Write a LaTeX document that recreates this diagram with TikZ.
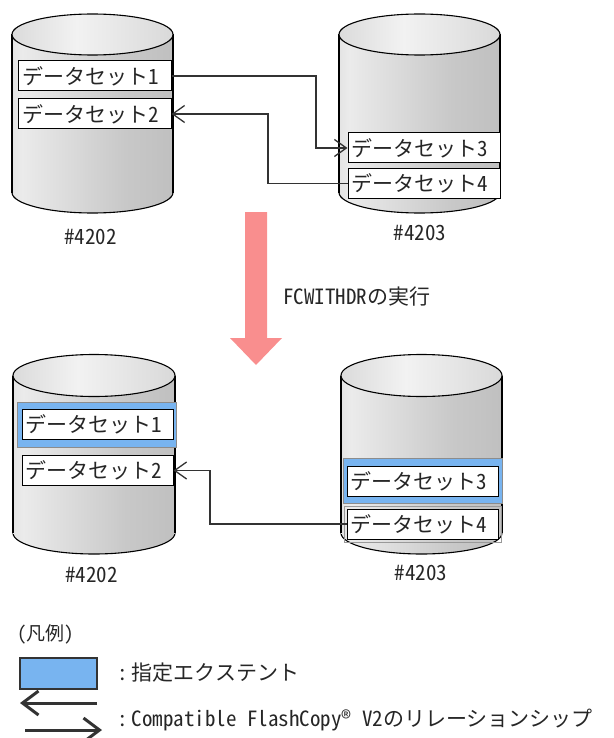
\documentclass[tikz,border=0pt]{standalone}
\usepackage{fontspec}
\setmainfont{Noto Sans CJK JP}[RawFeature=+hwid]
\usetikzlibrary{arrows.meta}
\definecolor{lineC}{HTML}{333333}
\definecolor{cylA}{HTML}{A6A6A6}
\definecolor{cylB}{HTML}{EBEBEB}
\definecolor{cylM}{HTML}{C8C8C8}
\definecolor{cylC}{HTML}{B2B2B2}
\definecolor{topA}{HTML}{BEBEBE}
\definecolor{topB}{HTML}{F2F2F2}
\definecolor{topC}{HTML}{C4C4C4}
\definecolor{extBlue}{HTML}{78B4F0}
\definecolor{pinkA}{HTML}{F98E8E}
\pgfdeclarehorizontalshading{cylbody}{100bp}{color(0bp)=(cylA); color(28bp)=(cylB); color(60bp)=(cylM); color(100bp)=(cylC)}
\pgfdeclarehorizontalshading{cyltop}{100bp}{color(0bp)=(topA); color(45bp)=(topB); color(100bp)=(topC)}
\newcommand\dbcyl[5]{%
  \path[shade, shading=cylbody, draw=black, line width=1.1pt] (#1,#4) ellipse [x radius=#2pt, y radius=#5pt];
  \path[shade, shading=cylbody] (#1-#2,#3) rectangle (#1+#2,#4);
  \draw[line width=1.1pt] (#1-#2,#3) -- (#1-#2,#4) (#1+#2,#3) -- (#1+#2,#4);
  \path[shade, shading=cyltop, draw=black, line width=1.1pt] (#1,#3) ellipse [x radius=#2pt, y radius=#5pt];
}
\tikzset{
  txt/.style={inner sep=0pt, font=\fontsize{21}{21}\selectfont, text=black!85},
  dsbox/.style={draw=black, line width=1pt, fill=white, minimum height=30pt,
    inner xsep=2pt, inner ysep=0pt, text width=145pt, align=left,
    font=\fontsize{21}{21}\selectfont, text=black!85},
  band/.style={draw=black!45, line width=0.8pt, fill=extBlue, inner sep=0pt},
  conn/.style={draw=lineC, line width=1.3pt, -{Straight Barb[length=12pt, width=17pt]}},
  legarrow/.style={draw=lineC, line width=3pt, -{Straight Barb[length=16pt, width=24pt]}},
}
\begin{document}
\begin{tikzpicture}[x=1pt, y=-1pt]
\useasboundingbox (0,0) rectangle (613,738);
% top cylinders
\dbcyl{92.5}{80.5}{34.5}{192.5}{20.5}
\dbcyl{419.5}{80.5}{34.5}{192.5}{20.5}
\node[dsbox, minimum width=153pt] (d1) at (94.5,76) {データセット1};
\node[dsbox, minimum width=153pt] (d2) at (94.5,114) {データセット2};
\node[dsbox, minimum width=152pt] (d3) at (424,148) {データセット3};
\node[dsbox, minimum width=152pt] (d4) at (424,183.5) {データセット4};
\node[txt] (l1) at (90.5,237) {\#4202};
\node[txt] (l2) at (420,233) {\#4203};
\coordinate (k1) at (316,76);
\coordinate (k2) at (268,114);
\draw[conn] (d1.east) -- (k1) |- (d3.west);
\draw[conn] (d4.west) -| (k2) -- (d2.east);
% pink arrow
\fill[pinkA] (245,212) -- (267,212) -- (267,338) -- (282,338) -- (256,365) -- (230,338) -- (245,338) -- cycle;
\node[txt, anchor=west] (run) at (283,297) {FCWITHDRの実行};
% bottom cylinders
\dbcyl{94}{81}{375.5}{533}{21}
\dbcyl{421.5}{80.5}{375.5}{533}{21}
\node[band, minimum width=159pt, minimum height=45pt] (b1) at (96.5,424.5) {};
\node[band, minimum width=159pt, minimum height=45pt] (b2) at (422.5,480.5) {};
\node[dsbox, minimum width=151pt] (e1) at (97.5,424.5) {データセット1};
\node[dsbox, minimum width=151pt] (e2) at (97.5,470.5) {データセット2};
\node[dsbox, minimum width=151pt] (e3) at (422.5,481.5) {データセット3};
\draw[black!40, line width=0.8pt] (344,506) rectangle (501,542);
\node[dsbox, minimum width=151pt] (e4) at (422.5,524) {データセット4};
\node[txt] (l3) at (91.5,575) {\#4202};
\node[txt] (l4) at (421,573) {\#4203};
\coordinate (k3) at (210,470.5);
\draw[conn] (e4.west) -| (k3) -- (e2.east);
% legend
\node[txt, anchor=west, font=\fontsize{19}{19}\selectfont] (lgt) at (17,634) {（凡例）};
\node[draw=black!80, line width=1.2pt, fill=extBlue, minimum width=77pt, minimum height=31pt, inner sep=0pt] (lgb) at (58.5,673.5) {};
\node[txt, anchor=west] (lg1) at (117,673) {：\hspace{4pt}指定エクステント};
\coordinate (a1) at (20,703);
\coordinate (a2) at (97,703);
\coordinate (a3) at (25,730);
\coordinate (a4) at (102,730);
\draw[legarrow] (a2) -- (a1);
\draw[legarrow] (a3) -- (a4);
\node[txt, anchor=west] (lg2) at (117,720) {：\hspace{4pt}Compatible FlashCopy® V2のリレーションシップ};
\end{tikzpicture}
\end{document}
